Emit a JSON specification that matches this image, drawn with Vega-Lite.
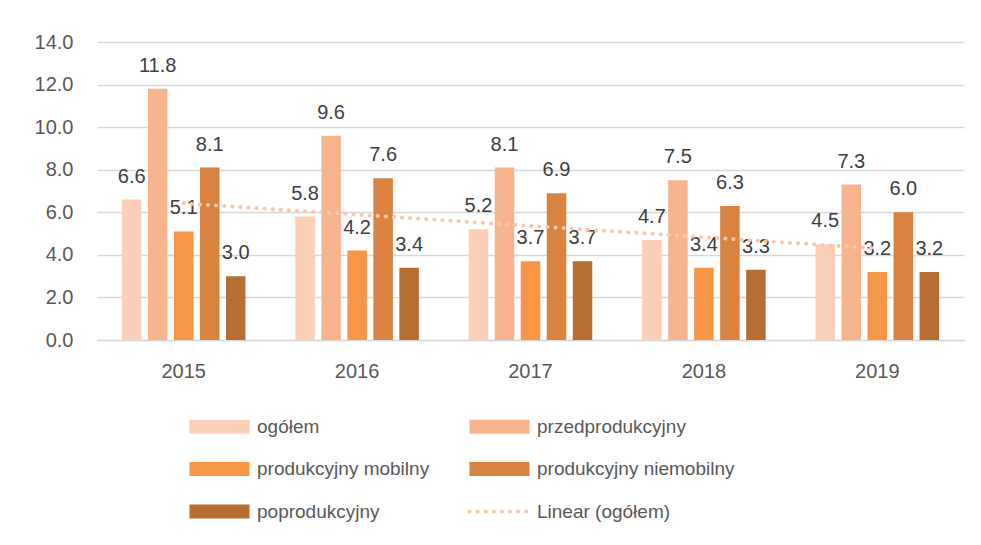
{
  "$schema": "https://vega.github.io/schema/vega-lite/v6.json",
  "width": 867,
  "height": 298,
  "autosize": {"type": "none"},
  "padding": {"left": 97, "top": 42, "right": 17, "bottom": 205},
  "background": "white",
  "config": {
    "font": "Liberation Sans",
    "view": {"stroke": null},
    "axis": {"labelFont": "Liberation Sans", "labelColor": "#595959", "labelFontSize": 20}
  },
  "datasets": {
    "bars": [
      {"year": "2015", "series": "ogółem", "value": 6.6},
      {"year": "2015", "series": "przedprodukcyjny", "value": 11.8},
      {"year": "2015", "series": "produkcyjny mobilny", "value": 5.1},
      {"year": "2015", "series": "produkcyjny niemobilny", "value": 8.1},
      {"year": "2015", "series": "poprodukcyjny", "value": 3.0},
      {"year": "2016", "series": "ogółem", "value": 5.8},
      {"year": "2016", "series": "przedprodukcyjny", "value": 9.6},
      {"year": "2016", "series": "produkcyjny mobilny", "value": 4.2},
      {"year": "2016", "series": "produkcyjny niemobilny", "value": 7.6},
      {"year": "2016", "series": "poprodukcyjny", "value": 3.4},
      {"year": "2017", "series": "ogółem", "value": 5.2},
      {"year": "2017", "series": "przedprodukcyjny", "value": 8.1},
      {"year": "2017", "series": "produkcyjny mobilny", "value": 3.7},
      {"year": "2017", "series": "produkcyjny niemobilny", "value": 6.9},
      {"year": "2017", "series": "poprodukcyjny", "value": 3.7},
      {"year": "2018", "series": "ogółem", "value": 4.7},
      {"year": "2018", "series": "przedprodukcyjny", "value": 7.5},
      {"year": "2018", "series": "produkcyjny mobilny", "value": 3.4},
      {"year": "2018", "series": "produkcyjny niemobilny", "value": 6.3},
      {"year": "2018", "series": "poprodukcyjny", "value": 3.3},
      {"year": "2019", "series": "ogółem", "value": 4.5},
      {"year": "2019", "series": "przedprodukcyjny", "value": 7.3},
      {"year": "2019", "series": "produkcyjny mobilny", "value": 3.2},
      {"year": "2019", "series": "produkcyjny niemobilny", "value": 6.0},
      {"year": "2019", "series": "poprodukcyjny", "value": 3.2}
    ],
    "trend": [
      {"year": "2015", "trend": 6.42},
      {"year": "2016", "trend": 5.89},
      {"year": "2017", "trend": 5.36},
      {"year": "2018", "trend": 4.83},
      {"year": "2019", "trend": 4.30}
    ]
  },
  "layer": [
    {
      "data": {"name": "bars"},
      "mark": {"type": "bar"},
      "encoding": {
        "x": {"field": "year", "type": "nominal", "sort": null,
          "scale": {"paddingInner": 0.25, "paddingOuter": 0.125},
          "axis": {"title": null, "labelAngle": 0, "ticks": false, "domainColor": "#D9D9D9", "domainWidth": 1.5, "labelPadding": 21, "grid": false}},
        "xOffset": {"field": "series", "type": "nominal",
          "sort": ["ogółem", "przedprodukcyjny", "produkcyjny mobilny", "produkcyjny niemobilny", "poprodukcyjny"],
          "scale": {"paddingInner": 0.25, "paddingOuter": 0.125}},
        "y": {"field": "value", "type": "quantitative",
          "scale": {"domain": [0, 14], "nice": false},
          "axis": {"title": null, "format": ".1f", "values": [0, 2, 4, 6, 8, 10, 12, 14], "domain": false, "ticks": false, "labelPadding": 24, "gridColor": "#D9D9D9", "gridWidth": 1.3}},
        "color": {"field": "series", "type": "nominal",
          "scale": {
            "domain": ["ogółem", "przedprodukcyjny", "produkcyjny mobilny", "produkcyjny niemobilny", "poprodukcyjny", "Linear (ogółem)"],
            "range": ["#FBCFB8", "#F8B48E", "#F79646", "#DA823F", "#B66E33", "#F9C8AC"]
          },
          "legend": {
            "title": null,
            "orient": "none",
            "direction": "horizontal",
            "legendX": 113,
            "legendY": 375,
            "columns": 2,
            "gridAlign": "all",
            "columnPadding": 6,
            "rowPadding": 22.5,
            "symbolSize": 900,
            "labelFontSize": 19,
            "labelColor": "#595959",
            "labelFont": "Liberation Sans",
            "labelOffset": 28,
            "labelLimit": 400,
            "encoding": {
              "symbols": {
                "shape": {"value": {"expr": "datum.value === 'Linear (ogółem)' ? 'M-2,0H2' : 'M-2,-0.47H2V0.47H-2Z'"}},
                "strokeWidth": {"value": {"expr": "datum.value === 'Linear (ogółem)' ? 4 : 0"}},
                "strokeDash": {"value": {"expr": "datum.value === 'Linear (ogółem)' ? [0.1, 8] : [1, 0]"}},
                "strokeCap": {"value": "round"},
                "opacity": {"value": 1}
              }
            }
          }
        }
      }
    },
    {
      "data": {"name": "bars"},
      "mark": {"type": "text", "baseline": "alphabetic", "dy": -17, "fontSize": 20, "color": "#404040", "font": "Liberation Sans"},
      "encoding": {
        "x": {"field": "year", "type": "nominal", "sort": null},
        "xOffset": {"field": "series", "type": "nominal",
          "sort": ["ogółem", "przedprodukcyjny", "produkcyjny mobilny", "produkcyjny niemobilny", "poprodukcyjny"]},
        "y": {"field": "value", "type": "quantitative"},
        "text": {"field": "value", "type": "quantitative", "format": ".1f"}
      }
    },
    {
      "data": {"name": "trend"},
      "mark": {"type": "line", "strokeWidth": 4, "strokeDash": [0.1, 8], "strokeCap": "round"},
      "encoding": {
        "x": {"field": "year", "type": "nominal", "sort": null},
        "y": {"field": "trend", "type": "quantitative"},
        "color": {"datum": "Linear (ogółem)"}
      }
    }
  ]
}
